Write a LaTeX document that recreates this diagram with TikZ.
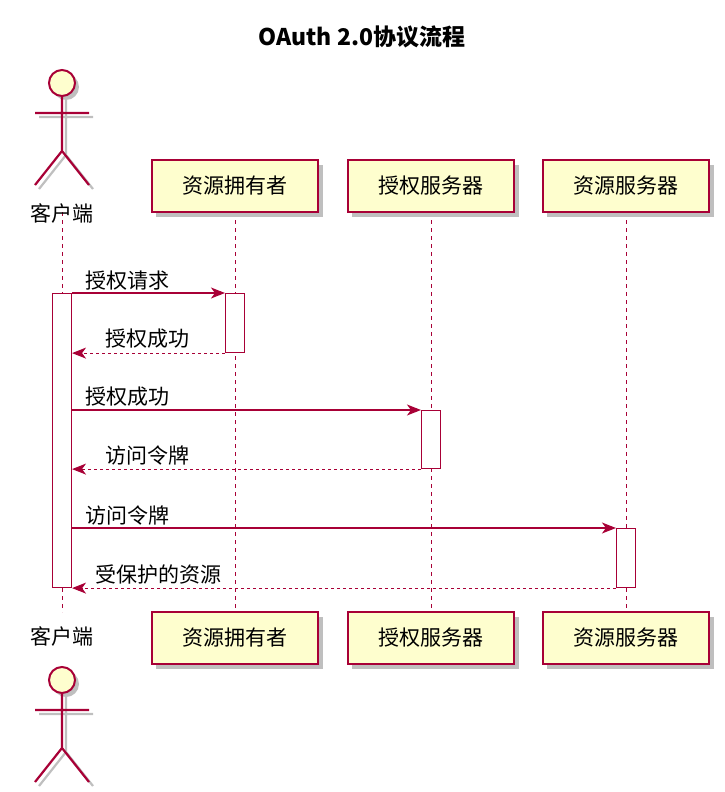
\documentclass[tikz,border=0pt]{standalone}
\usepackage{fontspec}
\setmainfont{Noto Sans CJK SC}
\usetikzlibrary{arrows.meta}
\definecolor{pb}{HTML}{A80036}
\definecolor{pf}{HTML}{FEFECE}
\begin{document}
\begin{tikzpicture}[x=1pt,y=-1pt,
  part/.style={draw=pb,fill=pf,line width=1.2pt,minimum width=166pt,minimum height=52pt,font=\fontsize{21}{24}\selectfont},
  shad/.style={fill=black!25},
  life/.style={draw=pb,dash pattern=on 4pt off 4pt,line width=0.9pt},
  act/.style={draw=pb,fill=white,line width=1.1pt},
  msg/.style={draw=pb,line width=1.1pt,-{Stealth[length=14pt,width=11pt,inset=4pt]}},
  ret/.style={msg,dash pattern=on 3pt off 3pt},
  lab/.style={font=\fontsize{21}{24}\selectfont,anchor=south west,inner sep=1pt}]
\useasboundingbox (0,0) rectangle (724,792);
\node[font=\bfseries\fontsize{23}{26}\selectfont] (title) at (362,37) {OAuth 2.0协议流程};
% lifelines
\foreach \x/\n in {62/c,235/o,431/a,626/r}{
  \coordinate (\n t) at (\x,212); \coordinate (\n b) at (\x,612);
  \draw[life] (\n t) -- (\n b);}
% boxes
\foreach \x/\n/\t in {235/o/资源拥有者,431/a/授权服务器,626/r/资源服务器}{
  \fill[shad] (\x-79,165) rectangle (\x+88,217);
  \node[part] (\n1) at (\x,186) {\t};
  \fill[shad] (\x-79,617) rectangle (\x+88,669);
  \node[part] (\n2) at (\x,638) {\t};}
% actors
\foreach \y/\n in {83/top,680/bot}{
  \begin{scope}[shift={(62,\y)}]
  \begin{scope}[shift={(4,4)},black!25,line width=2.2pt]
    \fill (0,0) circle (13);
    \draw (0,13)--(0,68) (-27,30)--(27,30) (0,68)--(-27,102) (0,68)--(27,102);
  \end{scope}
  \node[circle,draw=pb,fill=pf,line width=2pt,minimum size=26pt,inner sep=0] (h\n) at (0,0) {};
  \draw[pb,line width=2.2pt] (h\n.south)--(0,68) (-27,30)--(27,30) (0,68)--(-27,102) (0,68)--(27,102);
  \end{scope}}
\node[font=\fontsize{21}{24}\selectfont] (cl1) at (62,213) {客户端};
\node[font=\fontsize{21}{24}\selectfont] (cl2) at (62,636) {客户端};
% activations
\node[act,minimum width=19pt,minimum height=294pt,inner sep=0,anchor=north] (ac) at (62,293) {};
\node[act,minimum width=19pt,minimum height=59pt,inner sep=0,anchor=north] (ao) at (235,293) {};
\node[act,minimum width=19pt,minimum height=58pt,inner sep=0,anchor=north] (aa) at (431,410) {};
\node[act,minimum width=19pt,minimum height=59pt,inner sep=0,anchor=north] (ar) at (626,528) {};
% messages
\draw[msg] (ac.north east) -- (ao.north west);
\node[lab] (l1) at (84,291) {授权请求};
\draw[ret] (ao.south west) -- (ac.east |- ao.south);
\node[lab] (l2) at (104,350) {授权成功};
\draw[msg] (ac.east |- aa.north) -- (aa.north west);
\node[lab] (l3) at (84,408) {授权成功};
\draw[ret] (aa.south west) -- (ac.east |- aa.south);
\node[lab] (l4) at (104,466) {访问令牌};
\draw[msg] (ac.east |- ar.north) -- (ar.north west);
\node[lab] (l5) at (84,526) {访问令牌};
\draw[ret] (ar.south west) -- (ac.east |- ar.south);
\node[lab] (l6) at (94,585) {受保护的资源};
\end{tikzpicture}
\end{document}
